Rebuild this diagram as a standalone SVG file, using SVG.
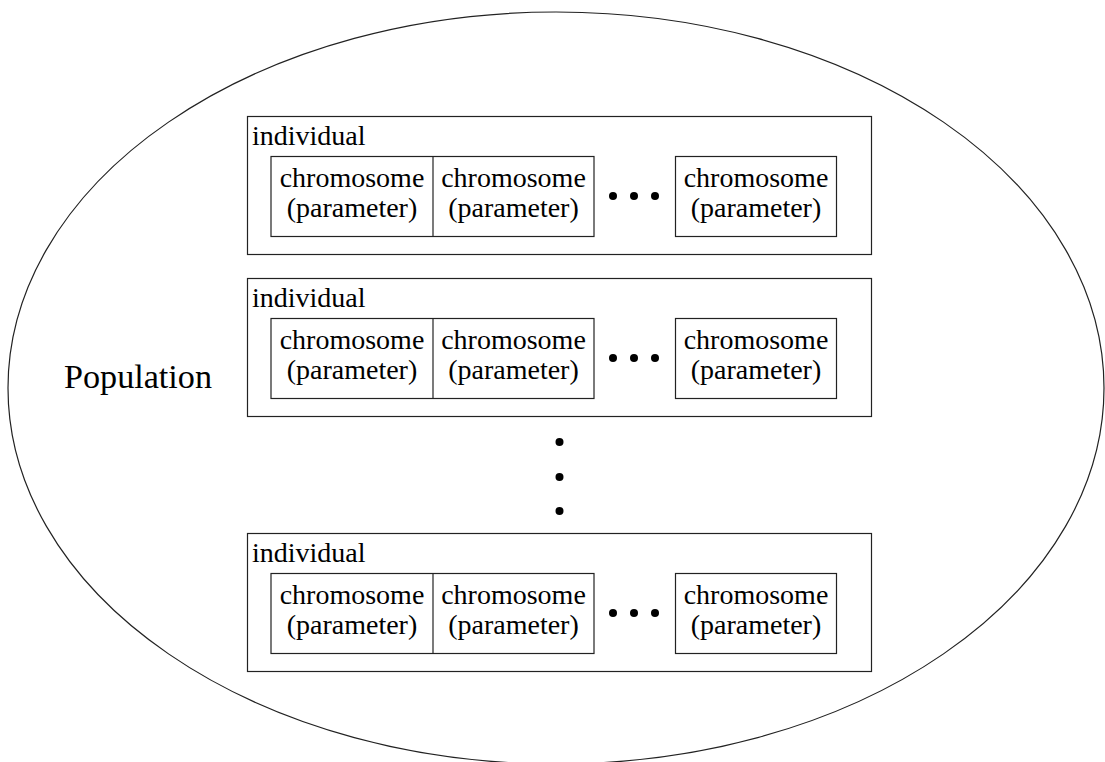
<svg xmlns="http://www.w3.org/2000/svg" width="1105" height="762" viewBox="0 0 1105 762">
<style>
.b{fill:none;stroke:#222;stroke-width:1.2}
.t{font-family:"Liberation Serif","Times New Roman",serif;font-size:28px;fill:#000}
.c{text-anchor:middle}
.d{fill:#000}
</style>
<defs>
<g id="row">
<rect class="b" x="247.5" y="116.5" width="624" height="138"/>
<text class="t" x="252" y="145">individual</text>
<rect class="b" x="271" y="156.5" width="323" height="80"/>
<line class="b" x1="433" y1="156.5" x2="433" y2="236.5"/>
<rect class="b" x="675.5" y="156.5" width="161" height="80"/>
<text class="t c" x="352" y="187">chromosome</text>
<text class="t c" x="352" y="217">(parameter)</text>
<text class="t c" x="513.5" y="187">chromosome</text>
<text class="t c" x="513.5" y="217">(parameter)</text>
<text class="t c" x="756" y="187">chromosome</text>
<text class="t c" x="756" y="217">(parameter)</text>
<circle class="d" cx="613" cy="196" r="4"/>
<circle class="d" cx="634" cy="196" r="4"/>
<circle class="d" cx="655" cy="196" r="4"/>
</g>
</defs>
<rect width="1105" height="762" fill="#fff"/>
<g id="population">
<ellipse class="b" cx="556" cy="388" rx="548" ry="376"/>
<text class="t" x="64" y="388" style="font-size:34px" textLength="148" lengthAdjust="spacingAndGlyphs">Population</text>
</g>
<g id="individual1"><use href="#row"/></g>
<g id="individual2"><use href="#row" transform="translate(0,162)"/></g>
<g id="vdots">
<circle class="d" cx="559.5" cy="442" r="4"/>
<circle class="d" cx="559.5" cy="477" r="4"/>
<circle class="d" cx="559.5" cy="511" r="4"/>
</g>
<g id="individual3"><use href="#row" transform="translate(0,417)"/></g>
<g id="connectors"></g>
</svg>
